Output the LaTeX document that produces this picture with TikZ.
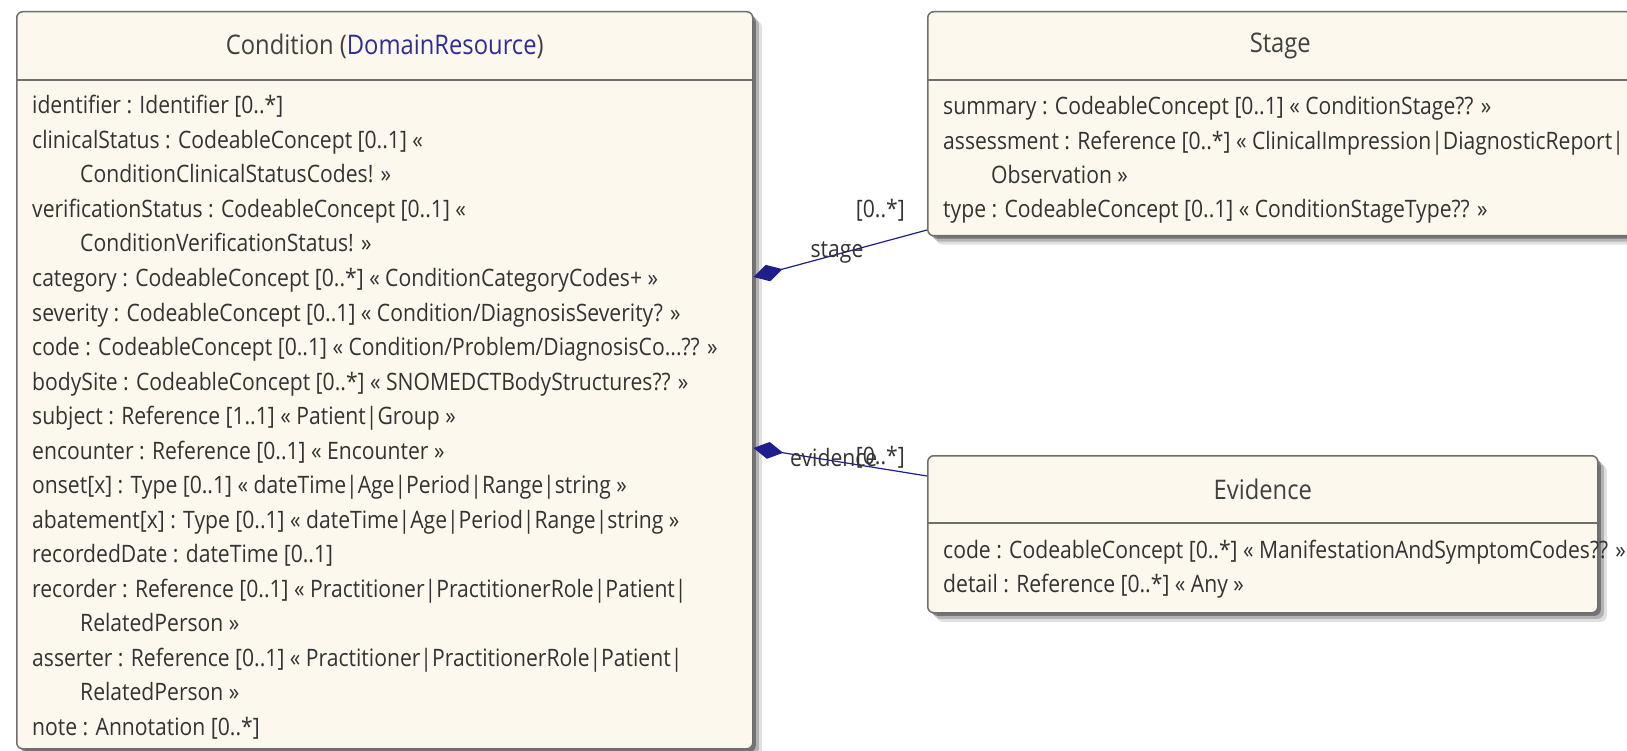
\documentclass[tikz,border=0pt]{standalone}
\usepackage{fontspec}
\setmainfont{Open Sans}[FakeStretch=0.88]
\usetikzlibrary{positioning}
\usetikzlibrary{shadows}
\usetikzlibrary{arrows.meta}
\definecolor{classfill}{RGB}{253,248,238}
\definecolor{classline}{RGB}{110,110,110}
\definecolor{assoc}{RGB}{30,30,140}
\definecolor{typeblue}{RGB}{45,45,150}
\newcommand{\ind}{\hspace*{48pt}}
\newcommand{\cutdots}{...}
\tikzset{
classbox/.style={draw=classline,fill=classfill,line width=1.5pt,rounded corners=6pt,inner sep=0pt,
  drop shadow={shadow xshift=9pt,shadow yshift=-9pt,opacity=.12,fill=black},
  drop shadow={shadow xshift=6pt,shadow yshift=-6pt,opacity=.2,fill=black},
  drop shadow={shadow xshift=3pt,shadow yshift=-3pt,opacity=.35,fill=black}},
classname/.style={font=\fontsize{27}{30}\selectfont,text=black!75},
attr/.style={font=\fontsize{24}{28}\selectfont,text=black!80,anchor=base west,inner sep=0pt},
role/.style={font=\fontsize{24}{28}\selectfont,text=black!80,inner sep=0pt},
assocline/.style={draw=assoc,line width=1.2pt,{Diamond[length=30pt,width=17pt]}-}
}
\begin{document}
\begin{tikzpicture}[x=1pt,y=-1pt]
\useasboundingbox[fill=white] (0,0) rectangle (1627,751);
% classes
\node (cond) [classbox,minimum width=736pt,minimum height=737pt,anchor=north west] at (16,11) {};
\node (stage) [classbox,minimum width=705pt,minimum height=224pt,anchor=north west] at (927,11) {};
\node (evid) [classbox,minimum width=670pt,minimum height=157pt,anchor=north west] at (927,455) {};
\draw[classline,line width=1.5pt] (cond.west |- 0,80) -- (cond.east |- 0,80);
\draw[classline,line width=1.5pt] (stage.west |- 0,80) -- (stage.east |- 0,80);
\draw[classline,line width=1.5pt] (evid.west |- 0,523) -- (evid.east |- 0,523);
\node (cond-title) [classname] at (cond.north |- 0,46) {Condition (\textcolor{typeblue}{DomainResource})};
\node (stage-title) [classname] at (stage.north |- 0,46) {Stage};
\node (evid-title) [classname] at (evid.north |- 0,489) {Evidence};
% attributes
\foreach \txt [count=\i] in {
{identifier : Identifier [0..*]},
{clinicalStatus : CodeableConcept [0..1] «},
{\ind ConditionClinicalStatusCodes! »},
{verificationStatus : CodeableConcept [0..1] «},
{\ind ConditionVerificationStatus! »},
{category : CodeableConcept [0..*] « ConditionCategoryCodes+ »},
{severity : CodeableConcept [0..1] « Condition/DiagnosisSeverity? »},
{code : CodeableConcept [0..1] « Condition/Problem/DiagnosisCo\cutdots?? »},
{bodySite : CodeableConcept [0..*] « SNOMEDCTBodyStructures?? »},
{subject : Reference [1..1] « Patient|Group »},
{encounter : Reference [0..1] « Encounter »},
{onset[x] : Type [0..1] « dateTime|Age|Period|Range|string »},
{abatement[x] : Type [0..1] « dateTime|Age|Period|Range|string »},
{recordedDate : dateTime [0..1]},
{recorder : Reference [0..1] « Practitioner|PractitionerRole|Patient|},
{\ind RelatedPerson »},
{asserter : Reference [0..1] « Practitioner|PractitionerRole|Patient|},
{\ind RelatedPerson »},
{note : Annotation [0..*]}}
\node (cond-\i) [attr] at (32,{114+(\i-1)*34.5}) {\txt};
\foreach \txt [count=\i] in {
{summary : CodeableConcept [0..1] « ConditionStage?? »},
{assessment : Reference [0..*] « ClinicalImpression|DiagnosticReport|},
{\ind Observation »},
{type : CodeableConcept [0..1] « ConditionStageType?? »}}
\node (stage-\i) [attr] at (943,{115+(\i-1)*34.3}) {\txt};
\foreach \txt [count=\i] in {
{code : CodeableConcept [0..*] « ManifestationAndSymptomCodes?? »},
{detail : Reference [0..*] « Any »}}
\node (evid-\i) [attr] at (943,{558+(\i-1)*34}) {\txt};
% associations
\draw[assocline] (cond.east |- 0,277) -- (stage.west |- 0,230);
\draw[assocline] (cond.east |- 0,448) -- (evid.west |- 0,476);
\node (stage-mult) [role,anchor=east] at (905,210) {[0..*]};
\node (stage-role) [role] at (837,252) {stage};
\node (evid-role) [role,anchor=west] at (790,457) {evidence};
\node (evid-mult) [role,anchor=east] at (905,457) {[0..*]};
\end{tikzpicture}
\end{document}
